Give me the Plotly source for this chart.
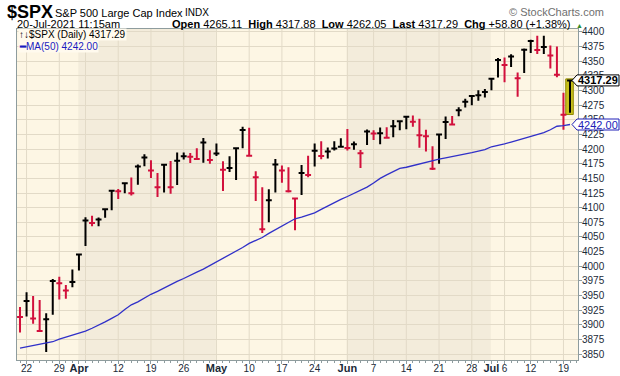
import datetime as dt
import plotly.graph_objects as go

# ---------------- data ----------------
dates = [
    "2021-03-19", "2021-03-22", "2021-03-23", "2021-03-24", "2021-03-25", "2021-03-26",
    "2021-03-29", "2021-03-30", "2021-03-31",
    "2021-04-01", "2021-04-05", "2021-04-06", "2021-04-07", "2021-04-08", "2021-04-09",
    "2021-04-12", "2021-04-13", "2021-04-14", "2021-04-15", "2021-04-16",
    "2021-04-19", "2021-04-20", "2021-04-21", "2021-04-22", "2021-04-23",
    "2021-04-26", "2021-04-27", "2021-04-28", "2021-04-29", "2021-04-30",
    "2021-05-03", "2021-05-04", "2021-05-05", "2021-05-06", "2021-05-07",
    "2021-05-10", "2021-05-11", "2021-05-12", "2021-05-13", "2021-05-14",
    "2021-05-17", "2021-05-18", "2021-05-19", "2021-05-20", "2021-05-21",
    "2021-05-24", "2021-05-25", "2021-05-26", "2021-05-27", "2021-05-28",
    "2021-06-01", "2021-06-02", "2021-06-03", "2021-06-04",
    "2021-06-07", "2021-06-08", "2021-06-09", "2021-06-10", "2021-06-11",
    "2021-06-14", "2021-06-15", "2021-06-16", "2021-06-17", "2021-06-18",
    "2021-06-21", "2021-06-22", "2021-06-23", "2021-06-24", "2021-06-25",
    "2021-06-28", "2021-06-29", "2021-06-30",
    "2021-07-01", "2021-07-02", "2021-07-06", "2021-07-07", "2021-07-08", "2021-07-09",
    "2021-07-12", "2021-07-13", "2021-07-14", "2021-07-15", "2021-07-16",
    "2021-07-19", "2021-07-20",
]

high = [
    3930.12, 3955.31, 3949.13, 3942.08, 3919.54, 3978.19, 3981.83, 3968.01, 3994.41,
    4020.63, 4083.42, 4086.23, 4083.13, 4098.19, 4129.48, 4131.76, 4142.42, 4151.69, 4173.49,
    4191.31, 4180.81, 4159.18, 4175.02, 4179.57, 4194.17, 4194.19, 4193.35, 4201.53, 4218.78,
    4198.10,
    4209.39, 4179.04, 4187.72, 4202.70, 4238.04, 4236.39, 4162.04, 4134.73, 4131.58, 4183.13,
    4171.92, 4169.15, 4116.93, 4172.80, 4188.72, 4209.52, 4213.42, 4202.61, 4213.38, 4218.36,
    4234.12, 4212.83, 4198.25, 4233.45, 4232.34, 4236.74, 4237.09, 4249.74, 4248.38, 4255.84,
    4257.16, 4251.89, 4232.99, 4204.78, 4226.24, 4255.84, 4256.60, 4271.28, 4286.12, 4292.14,
    4300.52, 4302.43,
    4320.66, 4355.43, 4356.46, 4361.88, 4330.88, 4371.60, 4386.68, 4393.36, 4393.68, 4376.74,
    4375.09, 4296.40, 4317.88,
]

low = [
    3886.75, 3914.16, 3901.57, 3889.07, 3853.50, 3917.12, 3943.25, 3944.35, 3964.04,
    3992.78, 4034.44, 4068.14, 4068.31, 4082.54, 4095.51, 4114.82, 4124.43, 4120.87, 4139.09,
    4170.75, 4150.47, 4118.38, 4126.01, 4123.69, 4138.78, 4182.36, 4176.22, 4181.78, 4176.81,
    4174.85,
    4188.03, 4128.59, 4160.94, 4147.33, 4201.64, 4188.13, 4111.53, 4056.88, 4074.99, 4125.99,
    4142.69, 4125.99, 4061.41, 4121.42, 4151.72, 4170.16, 4182.52, 4184.11, 4197.78, 4203.57,
    4197.59, 4198.71, 4167.59, 4206.78, 4215.66, 4208.41, 4218.74, 4220.34, 4232.25, 4234.08,
    4238.35, 4202.45, 4196.05, 4164.40, 4175.02, 4217.27, 4241.43, 4256.11, 4271.16, 4274.67,
    4282.53, 4287.96,
    4300.41, 4322.18, 4314.37, 4340.40, 4289.37, 4329.92, 4364.03, 4362.36, 4362.36, 4337.82,
    4322.53, 4233.13, 4262.05,
]

close = [
    3913.10, 3940.59, 3910.52, 3889.14, 3909.52, 3974.54, 3971.09, 3958.55, 3972.89,
    4019.87, 4077.91, 4073.94, 4079.95, 4097.17, 4128.80, 4127.99, 4141.59, 4124.66, 4170.42,
    4185.47, 4163.26, 4134.94, 4173.42, 4134.98, 4180.17, 4187.62, 4186.72, 4183.18, 4211.47,
    4181.17,
    4192.66, 4164.66, 4167.59, 4201.62, 4232.60, 4188.43, 4152.10, 4063.04, 4112.50, 4173.85,
    4163.29, 4127.83, 4115.68, 4159.12, 4155.86, 4197.05, 4188.13, 4195.99, 4200.88, 4204.11,
    4202.04, 4208.12, 4192.85, 4229.89, 4226.52, 4227.26, 4219.55, 4239.18, 4247.44, 4255.15,
    4246.59, 4223.70, 4221.86, 4166.45, 4224.79, 4246.44, 4241.84, 4266.49, 4280.70, 4290.61,
    4291.80, 4297.50,
    4319.94, 4352.34, 4343.54, 4358.13, 4320.82, 4369.55, 4384.63, 4369.21, 4374.30, 4360.03,
    4327.16, 4258.49, 4317.29,
]

prior_close = 3915.46

ma50 = [
    3860, 3862, 3864.5, 3866.5, 3868.5, 3871, 3875.5, 3879, 3883,
    3886, 3889, 3894, 3899, 3905, 3911, 3917, 3926, 3934, 3939,
    3946, 3952, 3957, 3963, 3969, 3974, 3979, 3985, 3990, 3995, 4001,
    4007, 4013, 4019, 4025, 4032, 4039, 4044, 4049, 4056, 4062,
    4069, 4075, 4081, 4084, 4087, 4091, 4097, 4103, 4108, 4114,
    4119, 4124, 4129, 4135, 4142, 4150, 4156, 4162, 4167, 4169,
    4172, 4175, 4178, 4180.5, 4183, 4185, 4187, 4189, 4191.5, 4194,
    4196.5, 4199,
    4204, 4206, 4209, 4212, 4215, 4218, 4221, 4225, 4228, 4233,
    4239, 4240, 4242.00,
]

tick_dates = ["2021-03-22", "2021-03-29", "2021-04-01", "2021-04-12", "2021-04-19",
              "2021-04-26", "2021-05-03", "2021-05-10", "2021-05-17", "2021-05-24",
              "2021-06-01", "2021-06-07", "2021-06-14", "2021-06-21", "2021-06-28",
              "2021-07-01", "2021-07-06", "2021-07-12", "2021-07-19"]
tick_labels = ["22", "29", "Apr", "12", "19", "26", "May", "10", "17", "24",
               "Jun", "7", "14", "21", "28", "Jul", "6", "12", "19"]

price_ticks = [3850, 3875, 3900, 3925, 3950, 3975, 4000, 4025, 4050, 4075, 4100, 4125,
               4150, 4175, 4200, 4225, 4250, 4275, 4300, 4325, 4350, 4375, 4400]

header_open, header_high, header_low, header_last = 4265.11, 4317.88, 4262.05, 4317.29
header_chg, header_pct = 58.80, 1.38

# ---------------- derived ----------------
n = len(dates)
xs = list(range(n))
d = [dt.date.fromisoformat(s) for s in dates]
prev = [prior_close] + close[:-1]
up_idx = [i for i in xs if close[i] >= prev[i]]
dn_idx = [i for i in xs if close[i] < prev[i]]
week_starts = [i for i in range(1, n) if d[i].isocalendar()[1] != d[i - 1].isocalendar()[1]]
month_starts = [i for i in range(1, n) if d[i].month != d[i - 1].month]
tick_pos = [dates.index(t) for t in tick_dates]
tick_text = [f"<b><span style='font-size:11px'>{t}</span></b>" if t.isalpha() else t
             for t in tick_labels]

FONT = "Arial, Liberation Sans, sans-serif"
RED = "#D2103C"
BLACK = "#000000"
BLUE = "#3030C8"
LIGHT = "#FDF6E4"
DARK = "#F3ECDB"
GRID = "#E2DAC7"
FRAME = "#8E9C9E"
TXT = "#1B2A38"

YMIN, YMAX = 3839.8, 4405.1
XMIN, XMAX = -0.46, 85.22
L, R, T, B, W, H = 17, 42, 29, 16, 620, 376
PW, PH = W - L - R, H - T - B


def px_x(px):
    return (px - L) / PW


def px_y(py):
    return (H - B - py) / PH


fig = go.Figure()


def ohlc_trace(idx, color):
    return go.Ohlc(
        x=[xs[i] for i in idx],
        open=[close[i] for i in idx],
        high=[high[i] for i in idx],
        low=[low[i] for i in idx],
        close=[close[i] for i in idx],
        increasing=dict(line=dict(color=color, width=2)),
        decreasing=dict(line=dict(color=color, width=2)),
        line=dict(width=2),
        tickwidth=0.45,
        hoverinfo="skip",
        showlegend=False,
    )


fig.add_trace(ohlc_trace(dn_idx, RED))
fig.add_trace(ohlc_trace(up_idx, BLACK))
fig.add_trace(go.Scatter(x=xs, y=ma50, mode="lines",
                         line=dict(color=BLUE, width=1.3),
                         hoverinfo="skip", showlegend=False))

shapes = []
# month shading (alternate months darker)
bounds = [-1] + month_starts + [n + 1]
for k in range(len(bounds) - 1):
    if k % 2 == 1:
        shapes.append(dict(type="rect", xref="x", yref="paper",
                           x0=bounds[k] - 0.1, x1=bounds[k + 1] - 0.1, y0=0, y1=1,
                           fillcolor=DARK, line=dict(width=0), layer="below"))
# weekly vertical grid lines
for i in week_starts:
    shapes.append(dict(type="line", xref="x", yref="paper", x0=i, x1=i, y0=0, y1=1,
                       line=dict(color=GRID, width=1), layer="below"))
# highlight of latest bar
shapes.append(dict(type="rect", xref="x", yref="y",
                   x0=xs[-1] - 0.65, x1=xs[-1] + 0.5,
                   y0=low[-1] - 3, y1=high[-1] + 2,
                   fillcolor="#C8C01C", line=dict(color="#8F8900", width=1),
                   layer="between"))

# price flags on the right
ppu = (YMAX - YMIN) / PH  # price units per pixel


def flag(value, color, text, bold):
    tip, x0, x1 = px_x(572), px_x(577), px_x(619)
    hh = 5.5 * ppu
    path = (f"M {tip},{value} L {x0},{value + hh} L {x1},{value + hh} "
            f"L {x1},{value - hh} L {x0},{value - hh} Z")
    shapes.append(dict(type="path", xref="paper", yref="y", path=path,
                       fillcolor="#FFFFFF", line=dict(color=color, width=1), layer="above"))
    return dict(x=px_x(598), y=value, xref="paper", yref="y", xanchor="center",
                yanchor="middle", showarrow=False,
                text=f"<b>{text}</b>" if bold else text,
                font=dict(family=FONT, size=11, color=color))


ann = []
ann.append(flag(close[-1], "#000000", f"{close[-1]:.2f}", True))
ann.append(flag(ma50[-1], "#2020B8", f"{ma50[-1]:.2f}", False))


def text_ann(px, py, text, size, color="#000000", anchor="left", bg=None):
    a = dict(x=px_x(px), y=px_y(py), xref="paper", yref="paper", xanchor=anchor,
             yanchor="middle", showarrow=False, text=text,
             font=dict(family=FONT, size=size, color=color), borderpad=0)
    if bg:
        a["bgcolor"] = bg
    return a


ann.append(text_ann(6, 12, "<b>$SPX</b>", 18))
ann.append(text_ann(54, 13, "S&P 500 Large Cap Index", 11))
ann.append(text_ann(184, 13, "INDX", 10))
ann.append(text_ann(605, 12, "© StockCharts.com", 11, color="#707070", anchor="right"))
ann.append(text_ann(16, 24, "20-Jul-2021 11:15am", 11))
ann.append(text_ann(
    572, 24,
    f"<b>Open</b> {header_open:.2f}  <b>High</b> {header_high:.2f}  "
    f"<b>Low</b> {header_low:.2f}  <b>Last</b> {header_last:.2f}  "
    f"<b>Chg</b> +{header_chg:.2f} (+{header_pct:.2f}%)", 11, anchor="right"))
ann.append(text_ann(575, 25, "▲", 7, color="#2E8B2E"))
ann.append(text_ann(18, 35, f"↑↓$SPX (Daily) {close[-1]:.2f}", 10, bg="#FFFAEE"))
ann.append(text_ann(18, 46, f"<b>━</b>MA(50) {ma50[-1]:.2f}", 10, color="#1A1AC0", bg="#FFFAEE"))

fig.update_layout(
    width=W, height=H, autosize=False,
    margin=dict(l=L, r=R, t=T, b=B, pad=0, autoexpand=False),
    paper_bgcolor="#FFFFFF", plot_bgcolor=LIGHT,
    font=dict(family=FONT, size=10, color=TXT),
    shapes=shapes, annotations=ann,
    xaxis=dict(type="linear", range=[XMIN, XMAX], rangeslider=dict(visible=False),
               tickmode="array", tickvals=tick_pos, ticktext=tick_text,
               showgrid=False, zeroline=False, automargin=False,
               showline=True, linecolor=FRAME, linewidth=1, mirror=True,
               ticks="outside", ticklen=3, tickcolor=FRAME, ticklabelstandoff=-4,
               tickfont=dict(family=FONT, size=10, color=TXT),
               minor=dict(tickmode="linear", tick0=0, dtick=1, ticks="outside",
                          ticklen=2, tickcolor=FRAME, showgrid=False)),
    yaxis=dict(range=[YMIN, YMAX], side="right", tickmode="array", tickvals=price_ticks,
               showgrid=True, gridcolor=GRID, gridwidth=1, zeroline=False, automargin=False,
               showline=True, linecolor=FRAME, linewidth=1, mirror=True,
               ticks="outside", ticklen=3, tickcolor=FRAME, ticklabelstandoff=-2,
               tickfont=dict(family=FONT, size=10, color=TXT)),
    showlegend=False,
)

fig.write_html(
    "out.html",
    config={"displayModeBar": False},
    post_script="document.body.style.margin='0';document.body.style.padding='0';"
                "document.body.style.overflow='hidden';",
)
